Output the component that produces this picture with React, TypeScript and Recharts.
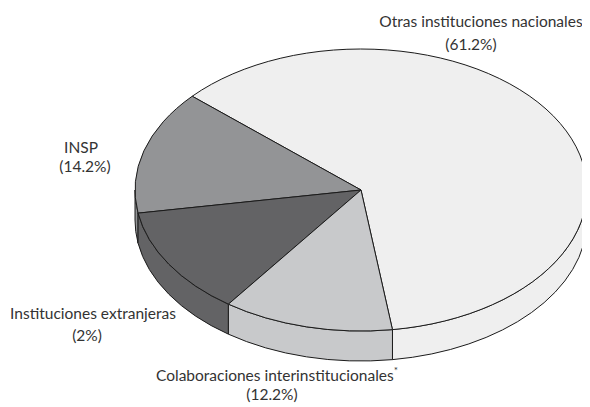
import React from "react";
import { PieChart, Pie, Cell } from "recharts";

const categories = [
  "Otras instituciones nacionales",
  "INSP",
  "Instituciones extranjeras",
  "Colaboraciones interinstitucionales",
];
const sliceValues = [61.2, 14.2, 12.4, 12.2];
const percentLabels = ["(61.2%)", "(14.2%)", "(2%)", "(12.2%)"];
const footnoteMarks = ["", "", "", "*"];
const colors = ["#efefef", "#939496", "#636365", "#c8c9cb"];

const data = categories.map((name, i) => ({
  name,
  value: sliceValues[i],
  pct: percentLabels[i],
  mark: footnoteMarks[i],
}));

const TILT = 141 / 226;
const DEPTH = 30;
const STROKE = "#1b1b1b";
const FONT = "Lato, 'Open Sans', sans-serif";
const FS = 15.5;

const rad = (a: number) => (a * Math.PI) / 180;

function Slice3D(props: any) {
  const { cx, cy, outerRadius, startAngle, endAngle, fill } = props;
  const r = outerRadius;
  const ry = r * TILT;
  const s = Math.min(startAngle, endAngle);
  const e = Math.max(startAngle, endAngle);
  const pt = (a: number, dy = 0) =>
    `${cx + r * Math.cos(rad(a))},${cy - ry * Math.sin(rad(a)) + dy}`;
  const large = e - s > 180 ? 1 : 0;
  const top = `M${cx},${cy} L${pt(s)} A${r},${ry} 0 ${large} 0 ${pt(e)} Z`;
  const walls: string[] = [];
  for (let k = -2; k <= 3; k++) {
    const lo = Math.max(s, 180 + 360 * k);
    const hi = Math.min(e, 360 + 360 * k);
    if (hi > lo) {
      walls.push(
        `M${pt(lo)} A${r},${ry} 0 0 0 ${pt(hi)} L${pt(hi, DEPTH)} A${r},${ry} 0 0 1 ${pt(
          lo,
          DEPTH
        )} Z`
      );
    }
  }
  return (
    <g>
      {walls.map((d, i) => (
        <path key={i} d={d} fill={fill} stroke={STROKE} strokeWidth={1} strokeLinejoin="round" />
      ))}
      <path d={top} fill={fill} stroke={STROKE} strokeWidth={1} strokeLinejoin="round" />
    </g>
  );
}

// label line offsets relative to the pie centre: [dx1, dy1, dx2, dy2]
const labelOffsets = [
  [120, -163, 110, -140],
  [-280, -37, -276, -18],
  [-268, 129, -274, 151],
  [-84, 191, -89, 210],
];

function renderLabel(props: any) {
  const { cx, cy, index } = props;
  const d = data[index];
  const o = labelOffsets[index];
  return (
    <g key={`lbl-${index}`}>
      <text
        x={cx + o[0]}
        y={cy + o[1]}
        textAnchor="middle"
        fontFamily={FONT}
        fontSize={FS}
        fill="#333"
      >
        {d.name}
        {d.mark ? (
          <tspan fontSize={10} dy={-7}>
            {d.mark}
          </tspan>
        ) : null}
      </text>
      <text
        x={cx + o[2]}
        y={cy + o[3]}
        textAnchor="middle"
        fontFamily={FONT}
        fontSize={FS}
        fill="#333"
      >
        {d.pct}
      </text>
    </g>
  );
}

export default function App() {
  return (
    <PieChart width={582} height={399} margin={{ top: 0, right: 0, bottom: 0, left: 0 }}>
      <Pie
        data={data}
        dataKey="value"
        nameKey="name"
        cx={353}
        cy={182}
        outerRadius={226}
        startAngle={278}
        endAngle={638}
        isAnimationActive={false}
        shape={Slice3D}
        activeShape={Slice3D}
        inactiveShape={Slice3D}
        label={renderLabel}
        labelLine={false}
        stroke={STROKE}
      >
        {data.map((_, i) => (
          <Cell key={i} fill={colors[i]} />
        ))}
      </Pie>
    </PieChart>
  );
}
